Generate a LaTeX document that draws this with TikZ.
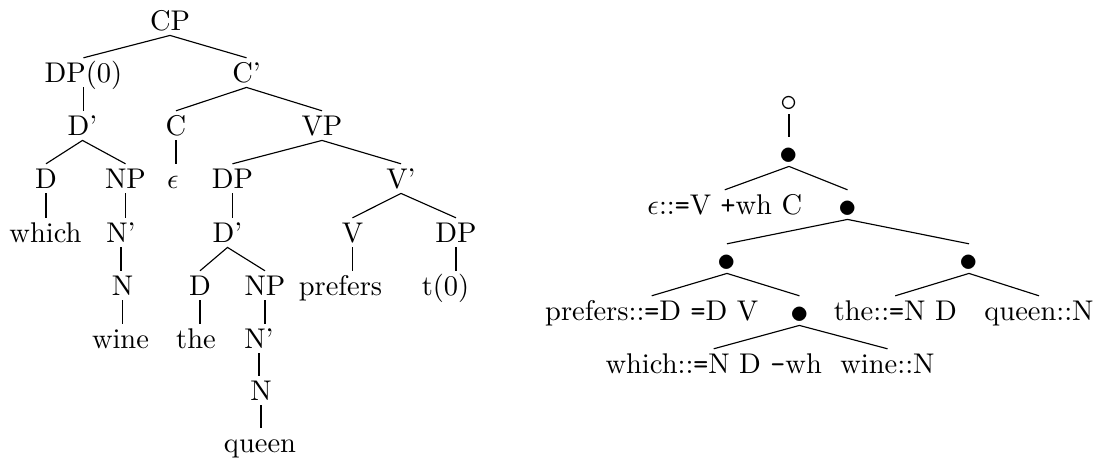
\documentclass[tikz,border=0pt]{standalone}
\usepackage{graphicx}
\newcommand{\mydot}{\raisebox{-1.3pt}{\scalebox{1.3}{$\bullet$}}}
\newcommand{\mycirc}{\raisebox{-0.9pt}{\scalebox{1.2}{$\circ$}}}
\begin{document}
\begin{tikzpicture}[x=0.351pt,y=-0.351pt,
  tn/.style={anchor=base,inner xsep=0pt,inner ysep=1.5pt,text height=6.8pt,text depth=0.2pt},
  br/.style={line width=0.4pt}]
\useasboundingbox (0,0) rectangle (1097,460);
% left tree
\node[tn] (cp) at (170,30) {CP};
\node[tn] (dpz) at (83.5,82) {DP(0)};
\node[tn] (cbar) at (246.5,82) {C'};
\node[tn] (dbar1) at (82.5,135) {D'};
\node[tn] (c) at (176,135) {C};
\node[tn] (vp) at (322,135) {VP};
\node[tn] (d1) at (46,188) {D};
\node[tn] (np1) at (125.5,188) {NP};
\node[tn] (eps) at (173,188) {$\epsilon$};
\node[tn] (dp2) at (232.5,188) {DP};
\node[tn] (vbar) at (401,188) {V'};
\node[tn] (which) at (45.5,242) {which};
\node[tn] (nbar1) at (121,242) {N'};
\node[tn] (dbar2) at (227.5,242) {D'};
\node[tn] (v) at (352.5,242) {V};
\node[tn] (dp3) at (456,242) {DP};
\node[tn] (n1) at (122.5,295) {N};
\node[tn] (d2) at (200,295) {D};
\node[tn] (np2) at (265,295) {NP};
\node[tn] (prefers) at (340.5,295) {prefers};
\node[tn] (t0) at (445.5,295) {t(0)};
\node[tn] (wine) at (120.5,348) {wine};
\node[tn] (the) at (196,348) {the};
\node[tn] (nbar2) at (259,348) {N'};
\node[tn] (n2) at (261,400) {N};
\node[tn] (queen) at (260,452) {queen};
\draw[br] (dpz.north) -- (cp.south) -- (cbar.north);
\draw[br] (dpz.south) -- (dpz.south |- dbar1.north);
\draw[br] (d1.north) -- (dbar1.south) -- (np1.north);
\draw[br] (c.north) -- (cbar.south) -- (vp.north);
\draw[br] (c.south) -- (c.south |- eps.north);
\draw[br] (dp2.north) -- (vp.south) -- (vbar.north);
\draw[br] (d1.south) -- (d1.south |- which.north);
\draw[br] (np1.south) -- (np1.south |- nbar1.north);
\draw[br] (dp2.south) -- (dp2.south |- dbar2.north);
\draw[br] (v.north) -- (vbar.south) -- (dp3.north);
\draw[br] (nbar1.south) -- (nbar1.south |- n1.north);
\draw[br] (d2.north) -- (dbar2.south) -- (np2.north);
\draw[br] (v.south) -- (v.south |- prefers.north);
\draw[br] (dp3.south) -- (dp3.south |- t0.north);
\draw[br] (n1.south) -- (n1.south |- wine.north);
\draw[br] (d2.south) -- (d2.south |- the.north);
\draw[br] (np2.south) -- (np2.south |- nbar2.north);
\draw[br] (nbar2.south) -- (nbar2.south |- n2.north);
\draw[br] (n2.south) -- (n2.south |- queen.north);
% right tree
\node[tn] (circ) at (789,109) {\mycirc};
\node[tn] (b1) at (789,161) {\mydot};
\node[tn] (epsC) at (724.8,214) {$\epsilon$::\texttt{=}V \texttt{+}wh C};
\node[tn] (b2) at (847.5,214) {\mydot};
\node[tn] (b3) at (727,268) {\mydot};
\node[tn] (b4) at (969,268) {\mydot};
\node[tn] (pref) at (651.7,320) {prefers::\texttt{=}D \texttt{=}D V};
\node[tn] (b5) at (799.4,320) {\mydot};
\node[tn] (theN) at (895.3,320) {the::\texttt{=}N D};
\node[tn] (queenN) at (1039,320) {queen::N};
\node[tn] (whichN) at (713.7,373) {which::\texttt{=}N D \texttt{-}wh};
\node[tn] (wineN) at (887.5,373) {wine::N};
\draw[br] (circ.south) -- (circ.south |- b1.north);
\draw[br] (epsC.north) -- (b1.south) -- (b2.north);
\draw[br] (b3.north) -- (b2.south) -- (b4.north);
\draw[br] (pref.north) -- (b3.south) -- (b5.north);
\draw[br] (theN.north) -- (b4.south) -- (queenN.north);
\draw[br] (whichN.north) -- (b5.south) -- (wineN.north);
\end{tikzpicture}
\end{document}
